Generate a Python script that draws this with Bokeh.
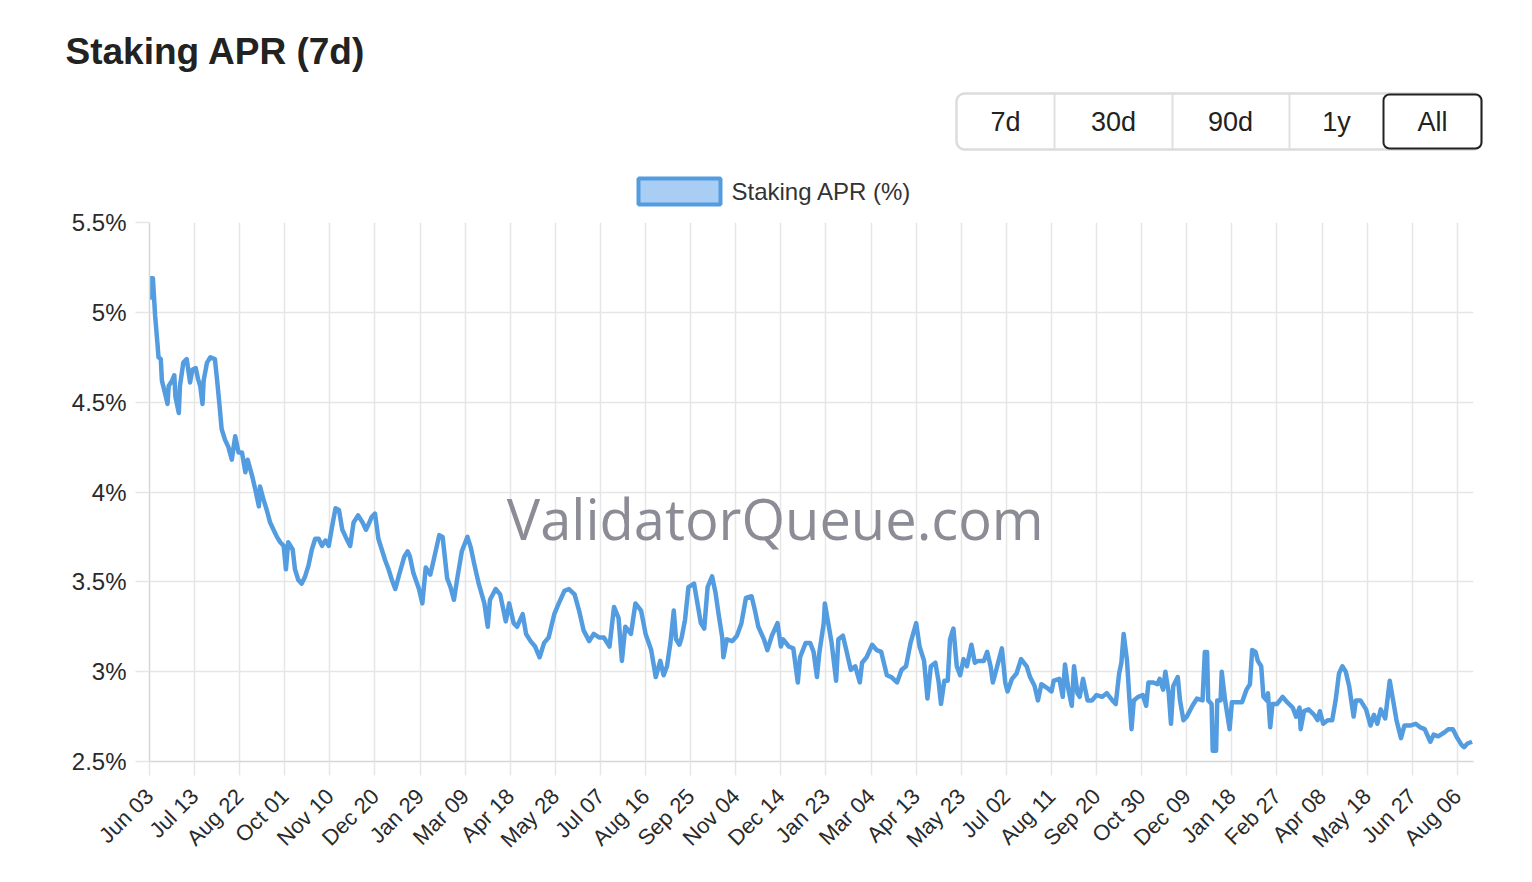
import math
from bokeh.plotting import figure
from bokeh.models import Range1d, FixedTicker, BoxAnnotation, Label
from bokeh.embed import file_html
from bokeh.resources import INLINE

# ---------------- data (days since Jun 03, APR %) ----------------
days_a = [0,1,3,5,7,8,10,11,13,16,17,20,22,23,26,27,30,33,36,38,41,43,45,47,48,51,54,58,60,62,
          64,67,70,73,76,79,82,85,87,91,94,97,98,101,104,107,110,113,116,119,121,123,127,129,132,135,138,141,144,147,
          150,153,156,159,162,165,168,171,174,178,181,185,189,192,195,197,200,203,206,209,212,215,218,221,226,229,231,234,239]
apr_a = [5.07,5.19,5.19,4.98,4.83,4.75,4.74,4.62,4.57,4.49,4.59,4.62,4.65,4.53,4.44,4.59,4.72,4.74,4.61,4.68,
         4.69,4.63,4.59,4.49,4.62,4.72,4.75,4.74,4.62,4.49,4.35,4.29,4.25,4.18,4.31,4.22,4.22,4.11,4.18,4.09,
         4.01,3.92,4.03,3.96,3.90,3.83,3.79,3.75,3.72,3.70,3.57,3.72,3.68,3.57,3.51,3.49,3.53,3.59,3.68,3.74,
         3.74,3.70,3.73,3.70,3.81,3.91,3.90,3.79,3.75,3.70,3.83,3.87,3.83,3.79,3.83,3.86,3.88,3.74,3.68,3.62,
         3.57,3.51,3.46,3.53,3.64,3.67,3.64,3.55,3.46]

days_b = [242,245,249,252,257,260,264,267,270,273,277,282,285,288,292,297,300,302,307,311,
          316,319,323,326,331,334,338,342,346,350,354,359,363,368,372,377,381,385,390,394,
          399,403,408,412,416,419,422,427,431,436,440,445,449]
apr_b = [3.38,3.58,3.54,3.62,3.76,3.75,3.52,3.47,3.40,3.52,3.67,3.75,3.69,3.60,3.49,3.38,3.25,3.40,3.46,3.43,
         3.28,3.38,3.27,3.25,3.32,3.21,3.17,3.14,3.08,3.16,3.19,3.32,3.38,3.45,3.46,3.43,3.34,3.23,3.17,3.21,
         3.19,3.19,3.14,3.36,3.30,3.06,3.25,3.21,3.38,3.34,3.21,3.12,2.97]

days_c = [453,456,459,462,465,467,470,472,475,478,483,486,489,492,495,499,502,505,508,509,
          512,517,521,525,529,534,537,540,545,548,552,557,560,562,567,571,575,577,582,586,
          589,592,594,598,599,602,605,609,611,615,618,622,626,630,632,636,641,645,649,654,
          658,663,667,671,675,680,683]
apr_c = [3.06,2.98,3.03,3.16,3.34,3.18,3.15,3.19,3.29,3.47,3.49,3.38,3.27,3.24,3.47,3.53,3.44,3.31,3.19,3.08,
         3.18,3.17,3.20,3.27,3.41,3.42,3.34,3.25,3.18,3.12,3.20,3.27,3.14,3.18,3.14,3.13,2.94,3.08,3.16,3.16,
         3.11,2.97,3.10,3.27,3.38,3.27,3.16,2.95,3.18,3.20,3.12,3.01,3.03,2.94,3.05,3.08,3.15,3.12,3.11,2.98,
         2.97,2.94,3.01,3.03,3.16,3.27,3.14]

days_d = [687,690,693,697,700,702,705,708,710,713,716,719,722,725,729,732,735,740,743,746,
          748,751,756,759,761,765,769,773,778,781,785,788,791,796,800,802,807,810,812,815,
          818,820,823,825,828,832,836,840,845,849,854,857,860,862,864,867,869,871,873,877,
          881,884,886,890,894,896,899,901,904,906,908,912]
apr_d = [3.06,2.85,3.03,3.05,2.94,2.82,2.95,2.95,3.18,3.24,3.03,2.98,3.07,3.03,3.15,3.05,3.06,3.06,3.11,3.03,
         2.94,3.01,3.13,2.94,2.89,2.96,2.99,3.07,3.03,2.97,2.92,2.84,2.93,2.91,2.89,2.95,2.96,2.86,3.04,2.90,
         2.81,3.03,2.88,2.86,2.96,2.84,2.84,2.87,2.86,2.88,2.84,2.82,2.99,3.05,3.21,3.06,2.86,2.68,2.84,2.86,
         2.87,2.81,2.94,2.94,2.93,2.96,2.90,3.00,2.88,2.71,2.92,2.97]

days_e = [914,917,920,925,929,934,936,938,939,942,943,946,947,950,951,954,958,960,965,969,
          973,976,978,981,983,986,988,991,992,994,996,1000,1005,1009,1014,1017,1020,1021,1024,1028,
          1033,1036,1038,1041,1045,1049,1052,1055,1058,1061,1064,1068,1070,1074,1079,1083,1086,1089,1092,1096,
          1100,1103,1106,1110,1113,1118,1123,1127,1131,1136,1139,1143,1148,1152,1156,1160,1164,1166,1169,1173]
apr_e = [2.84,2.73,2.75,2.81,2.85,2.84,3.11,3.11,2.84,2.82,2.56,2.56,2.84,2.84,3.00,2.84,2.68,2.83,2.83,2.83,
         2.90,2.93,3.12,3.11,3.06,3.03,2.86,2.84,2.88,2.69,2.82,2.82,2.86,2.83,2.80,2.75,2.80,2.68,2.78,2.79,
         2.76,2.73,2.78,2.71,2.73,2.73,2.84,2.99,3.03,3.00,2.92,2.75,2.84,2.84,2.79,2.70,2.76,2.71,2.79,2.74,
         2.95,2.84,2.73,2.63,2.70,2.70,2.71,2.69,2.68,2.61,2.65,2.64,2.66,2.68,2.68,2.63,2.59,2.58,2.60,2.61]

x_tick_labels = ["Jun 03","Jul 13","Aug 22","Oct 01","Nov 10","Dec 20","Jan 29","Mar 09","Apr 18","May 28",
                 "Jul 07","Aug 16","Sep 25","Nov 04","Dec 14","Jan 23","Mar 04","Apr 13","May 23","Jul 02",
                 "Aug 11","Sep 20","Oct 30","Dec 09","Jan 18","Feb 27","Apr 08","May 18","Jun 27","Aug 06"]
x_tick_step = 40
y_ticks = [2.5, 3.0, 3.5, 4.0, 4.5, 5.0, 5.5]
y_tick_labels = ["2.5%", "3%", "3.5%", "4%", "4.5%", "5%", "5.5%"]
range_buttons = ["7d", "30d", "90d", "1y", "All"]
series_name = "Staking APR (%)"

days = days_a + days_b + days_c + days_d + days_e
apr = apr_a + apr_b + apr_c + apr_d + apr_e
assert len(days) == len(apr)

FONT = "Liberation Sans"
LINE = "#539ce0"
W = 1524

# ---------------- header (title, range buttons, legend) ----------------
HH = 208
hdr = figure(width=W, height=HH, x_range=Range1d(0, W), y_range=Range1d(0, HH),
             x_axis_type=None, y_axis_type=None, toolbar_location=None,
             output_backend="svg", min_border=0)
hdr.outline_line_color = None

def hy(wy):  # page y -> header data y
    return HH - wy

hdr.add_layout(Label(x=65, y=hy(51), text="Staking APR (7d)", text_font=FONT,
                     text_font_size="37px", text_font_style="bold", text_color="#222222",
                     text_baseline="alphabetic"))

sep_x = [1054, 1172, 1289]
hdr.segment(x0=sep_x, y0=[hy(94)] * 3, x1=sep_x, y1=[hy(148)] * 3,
            line_color="#e0e0e0", line_width=2)
hdr.add_layout(BoxAnnotation(left=956, right=1481, top=hy(93), bottom=hy(149),
                             fill_alpha=0, line_color="#dcdcdc",
                             line_alpha=1, line_width=2.5, border_radius=8))
hdr.add_layout(BoxAnnotation(left=1383, right=1481, top=hy(94), bottom=hy(148),
                             fill_alpha=0, line_color="#222222", line_alpha=1,
                             line_width=2, border_radius=6))
btn_cx = [1005, 1113, 1230, 1336, 1432]
for cx, t in zip(btn_cx, range_buttons):
    hdr.add_layout(Label(x=cx, y=hy(121), text=t, text_font=FONT, text_font_size="27px",
                         text_color="#222222", text_align="center", text_baseline="middle"))

hdr.add_layout(BoxAnnotation(left=638, right=720, top=hy(178), bottom=hy(204),
                             fill_color="#a9cdf3", fill_alpha=1, line_color=LINE,
                             line_alpha=1, line_width=4))
hdr.add_layout(Label(x=731, y=hy(191), text=series_name, text_font=FONT, text_font_size="24px",
                     text_color="#333333", text_baseline="middle"))

# ---------------- main chart ----------------
p = figure(width=W, height=666, x_range=Range1d(0, 1174.3), y_range=Range1d(2.5, 5.5),
           toolbar_location=None, output_backend="svg",
           min_border_left=149, min_border_right=51, min_border_top=14, min_border_bottom=113)
p.outline_line_color = None

x_ticks = [i * x_tick_step for i in range(len(x_tick_labels))]
p.xaxis.ticker = FixedTicker(ticks=x_ticks)
p.xaxis.major_label_overrides = {t: l for t, l in zip(x_ticks, x_tick_labels)}
p.xaxis.major_label_orientation = math.pi / 4
p.yaxis.ticker = FixedTicker(ticks=y_ticks)
p.yaxis.major_label_overrides = {t: l for t, l in zip(y_ticks, y_tick_labels)}

for ax in (p.xaxis, p.yaxis):
    ax.axis_line_color = "#d6d6d6"
    ax.axis_line_width = 1.5
    ax.major_tick_line_color = "#e6e6e6"
    ax.major_tick_line_width = 1.5
    ax.major_tick_out = 14
    ax.major_tick_in = 0
    ax.minor_tick_line_color = None
    ax.major_label_text_font = FONT
    ax.major_label_text_color = "#2a2a2a"
p.yaxis.major_label_text_font_size = "24px"
p.yaxis.major_label_standoff = 9
p.xaxis.major_label_text_font_size = "22px"
p.xaxis.major_label_standoff = 17

p.xgrid.grid_line_color = "#e6e6e6"
p.ygrid.grid_line_color = "#e6e6e6"
p.xgrid.grid_line_width = 1.5
p.ygrid.grid_line_width = 1.5

p.add_layout(Label(x=555, y=3.853, text="ValidatorQueue.com", text_font="Open Sans",
                   text_font_size="56px", text_color="#8c8c96", text_align="center",
                   text_baseline="middle"))

p.line(days, apr, line_width=4.5, line_color=LINE, line_join="round")

open("out.html", "w").write(file_html([hdr, p], INLINE))
